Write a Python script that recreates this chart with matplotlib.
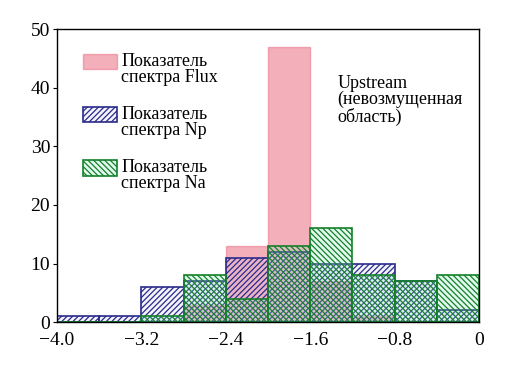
import matplotlib
matplotlib.use("Agg")
import matplotlib.pyplot as plt
from matplotlib.patches import Rectangle
from matplotlib.legend_handler import HandlerPatch

plt.rcParams['font.family'] = ['Liberation Serif', 'DejaVu Serif']

# bin edges (spectral index) and counts per bin
bin_left = [-4.0, -3.6, -3.2, -2.8, -2.4, -2.0, -1.6, -1.2, -0.8, -0.4]
bin_width = 0.4
flux = [0, 0, 0, 3, 13, 47, 7, 1, 0, 0]
np_counts = [1, 1, 6, 7, 11, 12, 10, 10, 7, 2]
na_counts = [0, 0, 1, 8, 4, 13, 16, 8, 7, 8]

labels = ["Показатель\nспектра Flux", "Показатель\nспектра Np", "Показатель\nспектра Na"]
xticks = [-4.0, -3.2, -2.4, -1.6, -0.8, 0]
xticklabels = ["−4.0", "−3.2", "−2.4", "−1.6", "−0.8", "0"]
yticks = [0, 10, 20, 30, 40, 50]

plt.rcParams['hatch.linewidth'] = 0.9

fig = plt.figure(figsize=(5.25, 3.79), dpi=100)
ax = fig.add_axes([0.1086, 0.150, 0.8038, 0.773])

b1 = ax.bar(bin_left, flux, width=bin_width, align='edge',
            facecolor=(0.92, 0.48, 0.55, 0.6), edgecolor=(0.92, 0.48, 0.55, 0.6),
            linewidth=1.0)
b2 = ax.bar(bin_left, np_counts, width=bin_width, align='edge',
            facecolor=(0.80, 0.80, 0.97, 0.2), edgecolor='#2a2a8a',
            hatch='//////', linewidth=1.2)
b3 = ax.bar(bin_left, na_counts, width=bin_width, align='edge',
            facecolor=(0.55, 0.92, 0.75, 0.25), edgecolor='#14802a',
            hatch='\\\\\\\\\\\\', linewidth=1.2)


def top_rect(legend, orig_handle, xdescent, ydescent, width, height, fontsize):
    # put the legend box next to the first line of the label
    return Rectangle((-xdescent, -ydescent + 0.45 * fontsize), width, height)


handles = [b1.patches[3], b2.patches[0], b3.patches[2]]
leg = ax.legend(handles, labels, loc='upper left',
                bbox_to_anchor=(0.062, 0.92), frameon=False, fontsize=13,
                borderpad=0, borderaxespad=0, handlelength=1.9,
                handleheight=0.95, handletextpad=0.2, labelspacing=1.1,
                handler_map={Rectangle: HandlerPatch(patch_func=top_rect)})
for t in leg.get_texts():
    t.set_linespacing(0.95)

ax.text(0.664, 0.845, "Upstream\n(невозмущенная\nобласть)", transform=ax.transAxes,
        fontsize=13, va='top', ha='left', linespacing=0.95)

ax.set_xlim(-4.0, 0)
ax.set_ylim(0, 50)
ax.set_xticks(xticks)
ax.set_xticklabels(xticklabels)
ax.set_yticks(yticks)
ax.tick_params(axis='x', direction='in', length=0, pad=7, labelsize=14)
ax.tick_params(axis='y', direction='out', length=3, pad=2, labelsize=14)
for s in ax.spines.values():
    s.set_linewidth(1.0)

fig.savefig("out.png", dpi=100)
